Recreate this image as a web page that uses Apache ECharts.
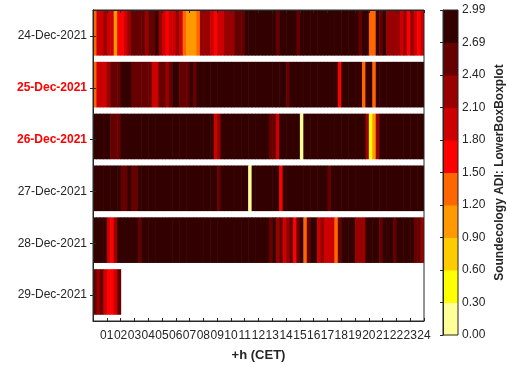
<!DOCTYPE html>
<html><head><meta charset="utf-8">
<script src="https://cdn.jsdelivr.net/npm/echarts@6/dist/echarts.min.js"></script>
<style>html,body{margin:0;padding:0;background:#fff}#c{width:507px;height:367px}</style>
</head><body><div id="c"></div>
<script>
// ---- data ----
const days = ['24-Dec-2021','25-Dec-2021','26-Dec-2021','27-Dec-2021','28-Dec-2021','29-Dec-2021'];
const holidays = ['25-Dec-2021','26-Dec-2021'];
const hourTicks = ['01','02','03','04','05','06','07','08','09','10','11','12','13','14','15','16','17','18','19','20','21','22','23','24'];
const slotHours = 0.25; // 15-minute slots

const dec24 = [
1.35,1.95,1.95,2.25,1.95,1.95,1.05,1.65, 1.65,1.95,2.25,2.55,2.55,2.55,2.55,2.25,
2.55,2.55,2.85,2.25,1.95,1.65,1.95,1.95, 2.25,1.95,1.35,1.05,1.05,1.05,1.35,2.25,
2.25,2.25,1.95,1.65,1.95,1.95,2.25,2.25, 2.25,2.55,2.55,2.55,2.85,2.85,2.85,2.85,
2.85,2.85,2.85,2.85,2.85,2.55,2.85,2.85, 2.85,2.85,2.85,2.55,2.85,2.85,2.85,2.85,
2.85,2.85,2.85,2.85,2.85,2.85,2.85,2.85, 2.85,2.85,2.85,2.85,2.85,2.55,2.85,2.85,
1.35,1.35,2.85,2.55,2.85,2.25,2.25,2.25, 2.25,1.95,2.25,1.65,2.25,1.95,1.65,1.95];
const dec25 = [
1.35,1.95,1.95,1.95,2.25,2.55,2.55,2.55, 2.85,2.85,2.85,2.55,2.55,2.55,2.55,2.55,
2.55,1.95,1.95,2.55,2.55,2.25,2.55,2.85, 2.85,2.55,2.55,2.55,2.85,2.55,2.85,2.85,
2.85,2.85,2.85,2.85,2.85,2.85,2.85,2.85, 2.85,2.85,2.85,2.85,2.85,2.85,2.85,2.85,
2.85,2.85,2.85,2.85,2.85,2.85,2.85,2.85, 2.55,2.85,2.85,2.85,2.85,2.85,2.85,2.85,
2.85,2.85,2.85,2.85,2.85,2.85,2.85,1.65, 2.85,2.85,2.85,2.85,2.85,2.85,1.35,2.85,
2.85,1.35,2.85,2.85,2.85,2.85,2.85,2.85, 2.85,2.85,2.85,2.85,2.85,2.85,2.85,2.85];
const dec26 = [
2.85,2.85,2.85,2.85,2.85,2.55,2.55,2.55, 2.85,2.85,2.85,2.85,2.85,2.85,2.85,2.85,
2.85,2.85,2.85,2.85,2.85,2.85,2.85,2.85, 2.85,2.85,2.85,2.85,2.85,2.85,2.85,2.85,
2.85,2.85,2.85,1.95,2.25,2.85,2.85,2.85, 2.85,2.85,2.85,2.85,2.85,2.85,2.85,2.85,
2.85,2.85,2.85,2.55,2.55,1.95,2.85,2.85, 2.85,2.85,2.85,2.85,0.15,2.85,2.85,2.85,
2.85,2.85,2.85,2.85,2.85,2.85,2.85,2.85, 2.85,2.85,2.85,2.85,2.85,2.85,2.85,2.25,
0.45,1.05,2.25,2.85,2.85,2.85,2.85,2.85, 2.85,2.85,2.85,2.85,2.85,2.85,2.85,2.85];
const dec27 = [
2.85,2.85,2.85,2.85,2.85,2.85,2.85,2.85, 2.55,2.55,2.85,2.55,2.55,2.85,2.85,2.85,
2.85,2.85,2.85,2.85,2.85,2.85,2.85,2.85, 2.85,2.85,2.85,2.85,2.85,2.85,2.85,2.85,
2.85,2.85,2.85,2.85,2.55,2.85,2.85,2.85, 2.85,2.85,2.85,2.85,2.85,0.15,2.85,2.85,
2.85,2.85,2.85,2.85,2.85,2.85,1.65,2.85, 2.85,2.85,2.85,2.85,2.85,2.85,2.85,2.85,
2.85,2.85,2.85,2.85,2.55,2.85,2.85,2.85, 2.85,2.85,2.85,2.85,2.85,2.85,2.85,2.85,
2.85,2.85,2.85,2.85,2.85,2.85,2.85,2.85, 2.85,2.85,2.85,2.85,2.85,2.85,2.85,2.85];
const dec28 = [
2.85,2.85,2.85,2.85,1.95,1.65,2.25,2.85, 2.85,2.85,2.85,2.85,2.85,2.55,2.85,2.85,
2.85,2.85,2.85,2.85,2.85,2.85,2.85,2.85, 2.85,2.85,2.85,2.85,2.85,2.85,2.85,2.85,
2.85,2.85,2.85,2.85,2.85,2.85,2.85,2.85, 2.85,2.85,2.85,2.85,2.85,2.85,2.85,2.85,
2.85,2.85,2.85,2.55,2.85,2.25,2.55,1.95, 2.25,2.55,1.65,2.55,2.85,1.35,2.55,2.85,
2.85,1.95,2.25,1.95,1.95,1.95,1.35,2.55, 2.85,2.85,2.85,2.85,2.25,2.25,2.25,2.85,
2.85,2.85,2.85,2.55,2.85,2.85,2.85,2.55, 2.85,2.85,2.85,2.85,2.85,2.55,2.55,2.25];
const dec29 = [2.55,2.25,2.55,1.95,1.65,1.65,1.95,2.55];
const dayValues = [dec24, dec25, dec26, dec27, dec28, dec29];

const levelBounds = [0,0.30,0.60,0.90,1.20,1.50,1.80,2.10,2.40,2.69,2.99];
const levelLabels = ['0.00','0.30','0.60','0.90','1.20','1.50','1.80','2.10','2.40','2.69','2.99'];
const levelColors = ['#FFFF99','#FFFF00','#FFCC00','#FF9900','#FF6600','#FF0000','#CC0000','#990000','#660000','#330000'];

// ---- build ----
const cells = [];
dayValues.forEach((vals, d) => vals.forEach((v, i) => { if (v != null) cells.push([i * slotHours, d, v]); }));
const pieces = levelColors.map((c, i) => i === levelColors.length - 1
  ? { gte: levelBounds[i], lte: levelBounds[i + 1], color: c }
  : { gte: levelBounds[i], lt: levelBounds[i + 1], color: c });
const txt = '#262626';
const font = 'Liberation Sans';

const chart = echarts.init(document.getElementById('c'), null, { renderer: 'canvas' });
chart.setOption({
  animation: false,
  textStyle: { fontFamily: font },
  grid: [
    { left: 93, top: 10, width: 331, height: 316, show: true, z: 10, backgroundColor: 'transparent', borderColor: txt, borderWidth: 1 },
    { left: 443, top: 10, width: 19, height: 325, show: true, z: 10, backgroundColor: 'transparent', borderColor: txt, borderWidth: 1 }
  ],
  visualMap: { type: 'piecewise', show: false, dimension: 2, seriesIndex: 0, pieces: pieces },
  xAxis: [
    { type: 'value', gridIndex: 0, min: 0, max: 24, interval: 1, z: 10,
      axisLine: { show: true, lineStyle: { color: txt } },
      axisTick: { show: true, inside: true, length: 3, lineStyle: { color: txt } },
      splitLine: { show: false },
      axisLabel: { color: txt, fontSize: 12, margin: 9, fontFamily: font,
        formatter: v => (v >= 1 ? hourTicks[v - 1] : '') },
      name: '+h (CET)', nameLocation: 'middle', nameGap: 28,
      nameTextStyle: { color: txt, fontSize: 13, fontWeight: 'bold', fontFamily: font } },
    { type: 'value', gridIndex: 0, position: 'top', min: 0, max: 24, interval: 1, z: 10,
      axisLine: { show: true, lineStyle: { color: txt } },
      axisTick: { show: true, inside: true, length: 3, lineStyle: { color: txt } },
      splitLine: { show: false }, axisLabel: { show: false } },
    { type: 'value', gridIndex: 1, min: 0, max: 1, show: false }
  ],
  yAxis: [
    { type: 'category', gridIndex: 0, data: days, inverse: true, z: 10,
      axisLine: { show: true, lineStyle: { color: txt } },
      axisTick: { show: true, inside: true, length: 3, alignWithLabel: true, lineStyle: { color: txt } },
      axisLabel: { margin: 6, fontSize: 12, color: txt, fontFamily: font,
        formatter: v => holidays.includes(v) ? '{h|' + v + '}' : v,
        rich: { h: { color: '#FF0000', fontWeight: 'bold', fontSize: 12, fontFamily: font } } } },
    { type: 'category', gridIndex: 0, data: days, inverse: true, position: 'right', z: 10,
      axisLine: { show: true, lineStyle: { color: txt } },
      axisTick: { show: true, inside: true, length: 3, alignWithLabel: true, lineStyle: { color: txt } },
      axisLabel: { show: false } },
    { type: 'value', gridIndex: 1, position: 'right', min: 0, max: 10, interval: 1, z: 10,
      axisLine: { show: true, lineStyle: { color: txt } },
      axisTick: { show: true, inside: true, length: 3, lineStyle: { color: txt } },
      splitLine: { show: false },
      axisLabel: { color: txt, fontSize: 12, margin: 4, fontFamily: font, formatter: v => levelLabels[v] },
      name: 'Soundecology ADI: LowerBoxBoxplot', nameLocation: 'middle', nameRotate: 90, nameGap: 36,
      nameTextStyle: { color: txt, fontSize: 12, fontWeight: 'bold', fontFamily: font } }
  ],
  series: [
    { type: 'custom', xAxisIndex: 0, yAxisIndex: 0, clip: true, data: cells,
      renderItem: (params, api) => {
        const x = api.value(0), d = api.value(1);
        const p0 = api.coord([x, d]);
        const p1 = api.coord([x + slotHours, d]);
        const band = api.size([0, 1])[1];
        return { type: 'rect',
          shape: { x: p0[0], y: p0[1] - band / 2, width: p1[0] - p0[0] + 0.6, height: band * 0.88 },
          style: { fill: api.visual('color') } };
      } },
    { type: 'custom', xAxisIndex: 2, yAxisIndex: 2, data: levelColors.map((c, i) => [i]),
      renderItem: (params, api) => {
        const i = api.value(0);
        const a = api.coord([0, i]);
        const b = api.coord([1, i + 1]);
        return { type: 'rect', shape: { x: a[0], y: b[1], width: b[0] - a[0], height: a[1] - b[1] + 0.5 },
          style: { fill: levelColors[i] } };
      } }
  ]
});
</script></body></html>
